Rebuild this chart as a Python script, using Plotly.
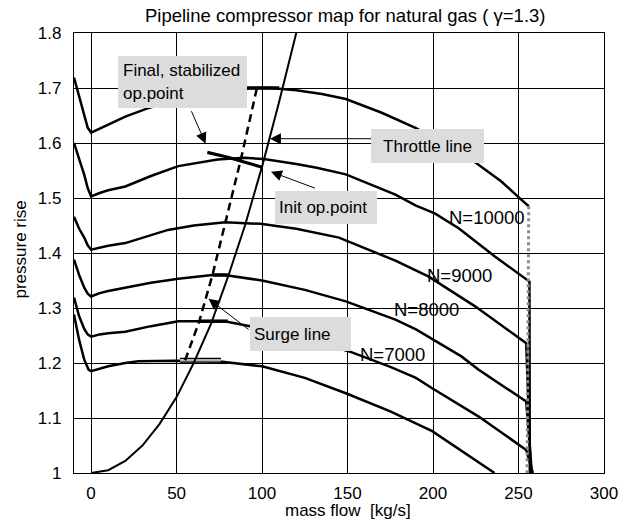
import plotly.graph_objects as go

# Mass flow [kg/s] and pressure rise for each speed line of the compressor map
top_x = [-10, -7, -4, -2, 0, 5, 10, 20, 33, 50, 70, 90, 97, 105, 120, 135, 149, 170, 190, 210, 225, 240, 251.6, 256]
top_p = [1.719, 1.684, 1.649, 1.628, 1.619, 1.626, 1.633, 1.648, 1.663, 1.678, 1.690, 1.699, 1.700, 1.700, 1.696, 1.689, 1.680, 1.655, 1.627, 1.592, 1.564, 1.530, 1.497, 1.485]

n10000_x = [-10, -7, -4, -2, 0, 5, 10, 20, 35, 51, 74, 89.5, 101, 120, 132, 149, 178, 190, 201, 215, 236, 256.4, 256.6]
n10000_p = [1.600, 1.571, 1.542, 1.518, 1.503, 1.509, 1.514, 1.521, 1.540, 1.558, 1.570, 1.573, 1.571, 1.562, 1.555, 1.543, 1.506, 1.486, 1.472, 1.445, 1.394, 1.348, 1.0]

n9000_x = [-10, -7, -4, -2, 0, 5, 10, 20, 30, 45, 60, 78.6, 99, 120, 145, 178, 197.5, 224.6, 254.5, 257.2]
n9000_p = [1.466, 1.444, 1.428, 1.414, 1.406, 1.410, 1.413, 1.418, 1.428, 1.442, 1.450, 1.456, 1.453, 1.444, 1.428, 1.386, 1.357, 1.303, 1.236, 1.0]

n8000_x = [-10, -7, -4, -2, 0, 5, 10, 20, 35, 51, 63, 71, 78, 100, 125, 149, 178, 190, 216.6, 226.5, 254.5, 257.8]
n8000_p = [1.388, 1.360, 1.337, 1.326, 1.321, 1.327, 1.331, 1.337, 1.346, 1.353, 1.357, 1.360, 1.360, 1.350, 1.333, 1.312, 1.279, 1.261, 1.212, 1.188, 1.130, 1.0]

n7000_x = [-10, -7, -4, -2, 0, 5, 10, 20, 35, 51, 63.3, 78, 93, 120, 151, 175, 190, 199.5, 226.5, 254.5, 258.4]
n7000_p = [1.319, 1.285, 1.262, 1.252, 1.248, 1.252, 1.254, 1.257, 1.267, 1.276, 1.276, 1.276, 1.267, 1.250, 1.221, 1.193, 1.173, 1.154, 1.103, 1.042, 1.0]

low_x = [-10, -7, -4, -1.5, 0, 5, 10, 20, 27.6, 49, 74, 100, 125, 149, 175, 199.5, 220, 236]
low_p = [1.288, 1.242, 1.206, 1.188, 1.185, 1.190, 1.194, 1.200, 1.203, 1.204, 1.203, 1.194, 1.173, 1.145, 1.112, 1.076, 1.034, 1.0]

# Choke limit below the top speed line
choke_x = [256, 255]
choke_p = [1.485, 1.0]

# Thicker plateau sections next to the surge line
plateau_top_x = [91, 110]
plateau_top_p = [1.700, 1.700]
plateau_8000_x = [71, 80]
plateau_8000_p = [1.360, 1.360]
plateau_7000_x = [63.3, 80]
plateau_7000_p = [1.276, 1.276]
plateau_low_x = [52, 76]
plateau_low_p = [1.205, 1.205]

# Surge line through the peak of each speed line
surge_x = [55, 63.3, 71, 78.6, 87.8, 97]
surge_p = [1.205, 1.276, 1.360, 1.455, 1.573, 1.700]

# Throttle (system) characteristic
throttle_x = [0, 10, 20, 30, 40, 50, 60, 70, 80, 90, 100, 110, 120]
throttle_p = [1.0, 1.005, 1.022, 1.050, 1.089, 1.138, 1.200, 1.270, 1.356, 1.450, 1.557, 1.675, 1.800]

# Transient from the initial to the stabilized operating point
transient_x = [68, 80, 90, 100]
transient_p = [1.583, 1.574, 1.565, 1.556]

# Speed-line labels
speed_labels = ["N=10000", "N=9000", "N=8000", "N=7000"]
speed_label_x = [231.5, 215.3, 196.2, 176.4]
speed_label_p = [1.464, 1.359, 1.297, 1.215]

x_ticks = [0, 50, 100, 150, 200, 250, 300]
y_ticks = [1, 1.1, 1.2, 1.3, 1.4, 1.5, 1.6, 1.7, 1.8]

FONT = "Liberation Sans, Arial, sans-serif"
BOX = "#dcdcdc"

fig = go.Figure()

def line(x, y, color="black", width=2, dash="solid"):
    fig.add_trace(go.Scatter(x=x, y=y, mode="lines", showlegend=False, hoverinfo="skip",
                             line=dict(color=color, width=width, dash=dash)))

for xs, ps in [(top_x, top_p), (n10000_x, n10000_p), (n9000_x, n9000_p),
               (n8000_x, n8000_p), (n7000_x, n7000_p), (low_x, low_p)]:
    line(xs, ps, width=2.5)

line(choke_x, choke_p, color="#8c8c8c", width=3, dash="dot")

for xs, ps in [(plateau_top_x, plateau_top_p), (plateau_8000_x, plateau_8000_p),
               (plateau_7000_x, plateau_7000_p)]:
    line(xs, ps, width=3.5)
line(plateau_low_x, plateau_low_p, width=5)
line(plateau_low_x, plateau_low_p, color="#b4b4b4", width=2.5)

line(surge_x, surge_p, width=2.5, dash="8px,5px")
line(throttle_x, throttle_p, width=2)
line(transient_x, transient_p, width=3.2)

annotations = []

# Arrows pointing from the callouts to the features
for tail, tip in [((58.3, 1.6605), (67.0, 1.5987)),
                  ((164.9, 1.6078), (104.6, 1.6078)),
                  ((131.8, 1.5169), (105.2, 1.5478)),
                  ((93.0, 1.2588), (68.7, 1.3169))]:
    annotations.append(dict(x=tip[0], y=tip[1], ax=tail[0], ay=tail[1], xref="x", yref="y",
                            axref="x", ayref="y", text="", showarrow=True, arrowhead=2,
                            arrowsize=2.2, arrowwidth=1, arrowcolor="black", standoff=0))

# Callout boxes
def callout(text, x, y, w, h, align, pad=4):
    annotations.append(dict(x=x, y=y, xref="x", yref="y", xanchor="left", yanchor="top",
                            text=text, showarrow=False, bgcolor=BOX, borderwidth=0,
                            borderpad=pad, width=w, height=h, align=align, valign="middle",
                            font=dict(family=FONT, size=17, color="black")))

callout("Final, stabilized<br>op.point", 16.0, 1.7587, 119, 42, "left", pad=5)
callout("Throttle line", 163.7, 1.626, 105, 26, "center")
callout("Init op.point", 107.4, 1.5133, 94, 25, "left")
callout("Surge line", 93.0, 1.2842, 93, 26, "left")

for txt, lx, lp in zip(speed_labels, speed_label_x, speed_label_p):
    annotations.append(dict(x=lx, y=lp, xref="x", yref="y", text=txt, showarrow=False,
                            xanchor="center", yanchor="middle",
                            font=dict(family=FONT, size=18.5, color="black")))

# Axis titles
annotations.append(dict(x=0.517, y=-0.086, xref="paper", yref="paper", text="mass flow  [kg/s]",
                        showarrow=False, xanchor="center", yanchor="middle",
                        font=dict(family=FONT, size=17, color="black")))
annotations.append(dict(x=-0.1007, y=0.507, xref="paper", yref="paper", text="pressure rise",
                        showarrow=False, textangle=-90, xanchor="center", yanchor="middle",
                        font=dict(family=FONT, size=17, color="black")))

axis_common = dict(showgrid=True, gridcolor="black", gridwidth=1, zeroline=False,
                   showline=True, linecolor="black", linewidth=1.2, mirror=True,
                   ticks="outside", tickcolor="rgba(0,0,0,0)",
                   tickfont=dict(family=FONT, size=17, color="black"))

fig.update_layout(
    width=630, height=526,
    margin=dict(l=74, r=20, t=33, b=53),
    paper_bgcolor="white", plot_bgcolor="white",
    title=dict(text="Pipeline compressor map for natural gas ( γ=1.3)", x=0.548, xanchor="center",
               y=1 - 16 / 526, yanchor="middle", font=dict(family=FONT, size=18.5, color="black")),
    xaxis=dict(range=[-10, 300], tickvals=x_ticks, ticktext=[str(v) for v in x_ticks],
               ticklen=4, **axis_common),
    yaxis=dict(range=[1, 1.8], tickvals=y_ticks, ticktext=[f"{v:g}" for v in y_ticks],
               ticklen=8, **axis_common),
    annotations=annotations,
    showlegend=False,
)

fig.write_html("out.html")
